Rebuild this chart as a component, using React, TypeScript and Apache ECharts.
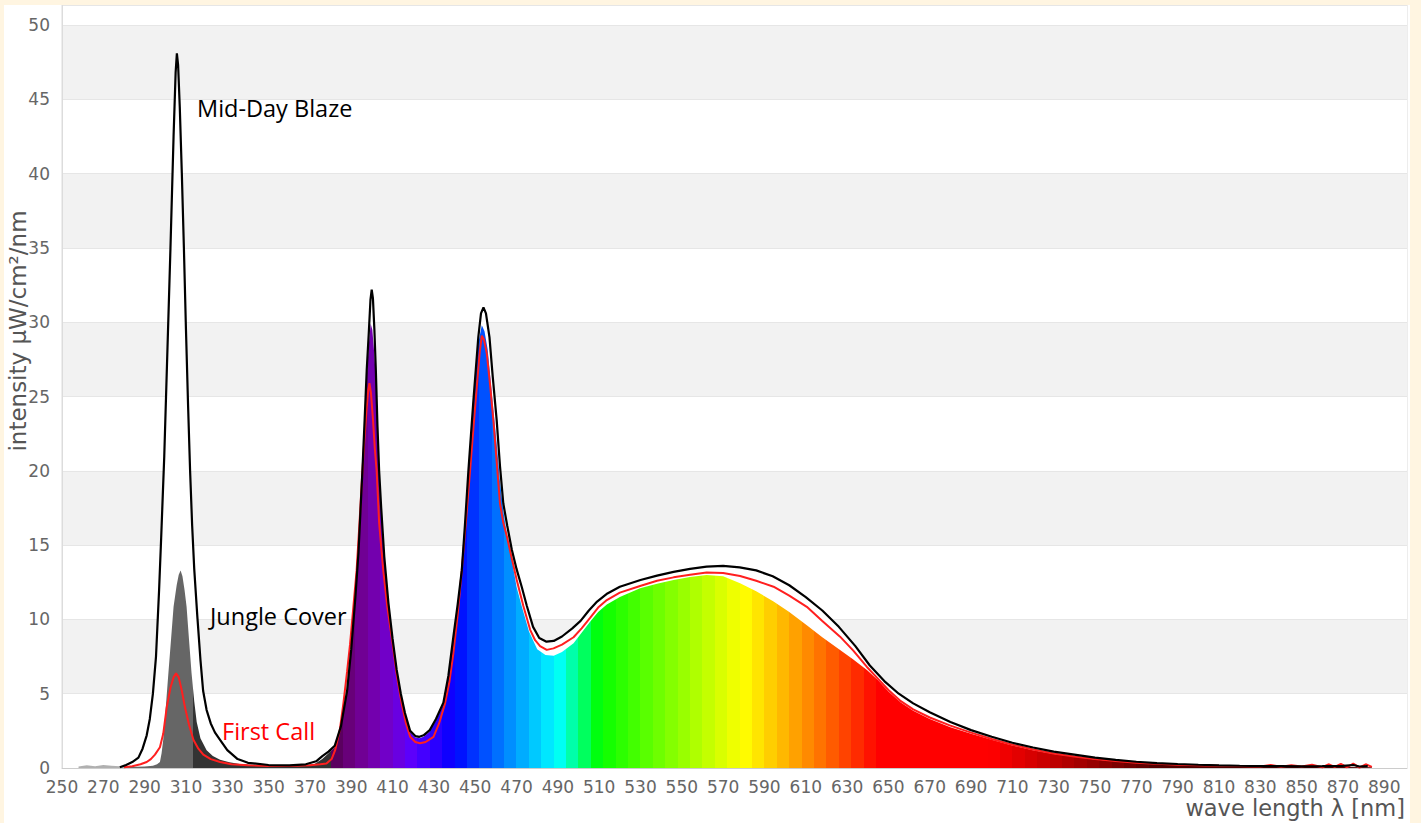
import React, { useEffect, useRef } from 'react';
import * as echarts from 'echarts';

// Mid-Day Blaze (black outline)
const blazeNm = [278, 281, 284, 287, 289, 291, 292.5, 294, 295.5, 297, 298, 299.5, 301, 302.5, 304, 305, 305.6, 306.2, 307, 308, 309, 310, 311, 312, 313, 314, 315.5, 317, 318.3, 320, 322, 324, 326.5, 330, 335, 340, 350, 360, 368, 373, 376, 379, 382, 385, 388, 390, 392, 393.5, 395.4, 396.5, 397.5, 398.5, 399.3, 399.9, 400.5, 401.2, 401.9, 402.7, 403.5, 404.5, 406, 408, 410, 412, 414, 416, 418.5, 421, 423, 425, 428, 431, 434.6, 437, 439.4, 441.5, 443.5, 445, 446.7, 449, 451.5, 452.8, 454, 455.2, 456.9, 458.5, 460.4, 462, 463.6, 465.5, 467.7, 470, 472.5, 475, 478, 481, 484.5, 488, 492, 497, 501, 505, 509, 514, 520, 530, 538, 546, 554, 562, 570, 578, 586, 594, 602, 610, 618, 626, 634, 641, 648, 655, 662, 670, 680, 690, 700, 710, 720, 730, 740, 750, 760, 770, 780, 790, 800, 810, 820, 830, 840, 850, 860, 870, 875, 878, 882];
const blazeVal = [0.05, 0.2, 0.4, 0.7, 1.3, 2.2, 3.3, 5, 7.5, 12, 15.5, 21, 28, 35, 42.5, 46.8, 48.1, 47.3, 44.5, 40, 35, 29.5, 24.5, 20, 16.3, 13.4, 10.2, 7.3, 5.2, 3.9, 3.0, 2.4, 1.9, 1.2, 0.6, 0.35, 0.2, 0.18, 0.25, 0.45, 0.8, 1.1, 1.5, 2.8, 5.2, 8, 11.5, 14.5, 20, 23.5, 26.8, 29.3, 31.5, 32.2, 31.6, 29.5, 26.8, 23, 20, 17.5, 14.2, 11.1, 8.7, 6.6, 5, 3.7, 2.5, 2.15, 2.1, 2.2, 2.55, 3.3, 4.4, 6.2, 8.8, 11, 13.3, 16.3, 20, 24.5, 29, 30.6, 31, 30.6, 29, 26.3, 23.4, 20.3, 17.8, 16.3, 14.7, 13.4, 12.2, 10.9, 9.5, 8.75, 8.5, 8.55, 8.85, 9.4, 9.9, 10.6, 11.2, 11.75, 12.2, 12.65, 12.95, 13.2, 13.4, 13.55, 13.6, 13.5, 13.3, 12.9, 12.3, 11.5, 10.6, 9.5, 8.2, 6.9, 5.85, 5.0, 4.35, 3.75, 3.1, 2.55, 2.1, 1.7, 1.38, 1.1, 0.9, 0.7, 0.55, 0.42, 0.33, 0.27, 0.22, 0.18, 0.15, 0.13, 0.12, 0.11, 0.12, 0.14, 0.2, 0.1, 0.12];

// Jungle Cover (spectrum-coloured fill)
const jungleNm = [258, 262, 266, 270, 274, 278, 282, 286, 290, 294, 296, 297.4, 298.2, 299, 300.3, 301.5, 302.8, 304, 305.5, 306.5, 307.4, 308.3, 309.3, 310.3, 311.5, 312.7, 314, 315.2, 317, 320, 323, 326.5, 331, 336, 345, 355, 365, 372, 376, 379, 382, 385, 388, 390, 392, 393.5, 395.4, 396.5, 397.5, 398.5, 399.4, 400.2, 401.2, 401.9, 402.7, 403.5, 404.5, 406, 408, 410, 412, 414, 416, 418.5, 421, 423, 425, 428, 431, 434.6, 437, 439.4, 441.5, 443.5, 445, 446.7, 449, 451.5, 453.2, 454.5, 456, 457.5, 459, 460.4, 462, 463.6, 465.5, 468, 470, 472.5, 476, 480, 484, 488, 492, 497.6, 501.5, 505.6, 509.5, 513.7, 520, 529.8, 538, 546, 554, 562, 570, 578.2, 586, 594.4, 602, 610.5, 618, 626.6, 633, 639.6, 645, 650, 656, 662, 670, 680, 690, 700, 710, 720, 730, 740, 750, 760, 770, 780, 790, 800, 810, 830, 850, 870, 884];
const jungleVal = [0.1, 0.18, 0.12, 0.2, 0.15, 0.12, 0.08, 0.08, 0.1, 0.15, 0.25, 0.4, 1.0, 1.9, 4.2, 6.4, 8.7, 10.85, 12.3, 13.0, 13.3, 12.9, 12.0, 10.85, 8.6, 6.4, 4.5, 3.1, 2.0, 1.2, 0.8, 0.55, 0.38, 0.27, 0.18, 0.15, 0.15, 0.25, 0.6, 1.0, 1.4, 2.7, 5.1, 7.9, 11.4, 14.4, 19.9, 23.3, 26.3, 28.5, 29.9, 29.5, 27.8, 26.3, 22.8, 19.8, 17.3, 14, 11, 8.6, 6.5, 4.9, 3.6, 2.4, 2.05, 2.0, 2.1, 2.45, 3.2, 4.3, 6.1, 8.7, 10.9, 13.2, 16.2, 19.9, 24.4, 28.6, 29.8, 29.4, 28.2, 26, 23.8, 21.8, 19.3, 17.3, 15.6, 13.8, 12.2, 10.9, 9.2, 8.0, 7.6, 7.55, 7.8, 8.4, 9.1, 9.85, 10.5, 11.0, 11.5, 12.1, 12.4, 12.65, 12.85, 12.99, 12.9, 12.43, 11.9, 11.2, 10.5, 9.6, 8.8, 7.94, 7.3, 6.6, 5.9, 5.15, 4.4, 3.85, 3.3, 2.75, 2.3, 1.9, 1.52, 1.2, 0.95, 0.76, 0.58, 0.45, 0.35, 0.27, 0.2, 0.16, 0.12, 0.09, 0.07, 0.06, 0.05];

// First Call (red outline)
const firstNm = [280, 284, 288, 291, 293, 295, 297.4, 299, 300.7, 302.5, 304, 305.2, 306.5, 308, 309.5, 311.5, 313.6, 316, 318.4, 322, 326.5, 332, 340, 350, 360, 370, 375, 378, 380.5, 382.2, 384.5, 386.2, 388, 389.4, 391, 392.6, 394, 395, 396.3, 397.5, 398.3, 398.8, 399.5, 400.5, 401.4, 402.3, 403.5, 405.5, 407.5, 409.6, 412, 414.4, 416.5, 418.5, 421, 423.3, 426, 429.8, 432.5, 435.4, 437.5, 439.4, 441.5, 443.5, 445.5, 447.5, 449.2, 450.8, 452.2, 453.2, 454.3, 455.6, 457.2, 458.8, 460.4, 462, 463.6, 465.3, 467.7, 470.1, 473.3, 476.6, 479, 481.4, 484.6, 487.9, 492, 497.6, 501.5, 505.6, 509.5, 513.7, 520, 529.8, 538, 546, 554, 562, 570, 578.2, 586, 594.4, 602, 610.5, 618, 626.6, 633, 639.6, 645, 650, 656, 662, 670, 680, 690, 700, 710, 720, 730, 740, 750, 760, 770, 780, 790, 800, 810, 820, 830, 835, 840, 845, 850, 855, 860, 863, 866, 869, 872, 875, 878, 881, 884];
const firstVal = [0.05, 0.12, 0.25, 0.4, 0.6, 0.9, 1.4, 2.3, 4.1, 5.4, 6.1, 6.37, 6.1, 5.2, 4.1, 2.9, 1.9, 1.3, 0.9, 0.6, 0.4, 0.25, 0.18, 0.14, 0.13, 0.18, 0.25, 0.3, 0.6, 1.2, 2.6, 4.35, 6.5, 8.3, 10.8, 13.3, 16.5, 19, 22, 24.3, 25.5, 25.9, 25.3, 23.5, 21.5, 20, 16.5, 13.3, 10.8, 8.8, 6.3, 4.35, 3, 2.1, 1.75, 1.66, 1.75, 2.1, 3, 4.35, 5.8, 7.7, 10.3, 13.3, 16.6, 20, 23, 25.7, 28, 29.1, 28.8, 27.9, 25.8, 23.4, 20.6, 17.8, 16.5, 15.6, 14.1, 12.65, 10.9, 9.3, 8.6, 8.2, 7.95, 8.05, 8.3, 8.8, 9.4, 10.1, 10.8, 11.3, 11.8, 12.25, 12.6, 12.83, 13.0, 13.15, 13.13, 12.92, 12.6, 12.2, 11.6, 10.85, 9.9, 8.84, 7.9, 6.8, 6.0, 5.25, 4.5, 3.95, 3.4, 2.85, 2.38, 1.95, 1.57, 1.24, 0.98, 0.78, 0.6, 0.47, 0.36, 0.28, 0.22, 0.18, 0.15, 0.13, 0.1, 0.2, 0.08, 0.18, 0.1, 0.22, 0.05, 0.25, 0.08, 0.28, 0.05, 0.3, 0.02, 0.25, 0.08];

const yTicks = [0, 5, 10, 15, 20, 25, 30, 35, 40, 45, 50];

const seriesLabels = [
  { text: 'Mid-Day Blaze', color: '#000000', x: 197, y: 108 },
  { text: 'Jungle Cover', color: '#000000', x: 210, y: 616 },
  { text: 'First Call', color: '#ff0000', x: 222, y: 731 },
];

const zip = (xs: number[], ys: number[]) => xs.map((x, i) => [x, ys[i]]);

function spectrumColor(w: number): string {
  let r = 0, g = 0, b = 0;
  if (w < 440) { r = -(w - 440) / 60; b = 1; }
  else if (w < 490) { g = (w - 440) / 50; b = 1; }
  else if (w < 510) { g = 1; b = -(w - 510) / 20; }
  else if (w < 580) { r = (w - 510) / 70; g = 1; }
  else if (w < 645) { r = 1; g = -(w - 645) / 65; }
  else { r = 1; }
  let f = 1;
  if (w < 420) f = 0.3 + 0.7 * (w - 380) / 40;
  else if (w > 700) f = 0.3 + 0.7 * (780 - w) / 80;
  const c = (v: number) => Math.round(255 * Math.pow(Math.max(0, v * f), 0.95));
  return `rgb(${c(r)},${c(g)},${c(b)})`;
}

function buildPieces() {
  const pieces: any[] = [
    { gte: 240, lt: 281, color: '#b0b0b0' },
    { gte: 281, lt: 313.4, color: '#666666' },
    { gte: 313.4, lt: 380, color: '#333333' },
  ];
  for (let w = 380; w < 782; w += 6) {
    pieces.push({ gte: w, lt: w + 6, color: spectrumColor(Math.min(w + 3, 780)) });
  }
  pieces.push({ gte: 782, lt: 920, color: spectrumColor(780) });
  return pieces;
}

export default function App() {
  const ref = useRef<HTMLDivElement>(null);
  useEffect(() => {
    const chart = echarts.init(ref.current!, null, { renderer: 'svg' });
    const font = 'DejaVu Sans';
    chart.setOption({
      animation: false,
      backgroundColor: '#ffffff',
      grid: { left: 62, right: 14, top: 5, bottom: 55, show: true, borderColor: '#dcdcdc', borderWidth: 1, backgroundColor: 'transparent' },
      xAxis: {
        type: 'value', min: 250, max: 901, interval: 20,
        axisLine: { show: true, lineStyle: { color: '#cccccc' } },
        axisTick: { show: false },
        splitLine: { show: false },
        axisLabel: { color: '#666666', fontSize: 17, fontFamily: font, margin: 10, showMaxLabel: false },
      },
      yAxis: {
        type: 'value', min: 0, max: 51.35, interval: 5,
        axisLine: { show: true, lineStyle: { color: '#dcdcdc' } },
        axisTick: { show: false },
        splitLine: { show: true, lineStyle: { color: '#e6e6e6' } },
        splitArea: { show: true, areaStyle: { color: ['#ffffff', '#f2f2f2'] } },
        axisLabel: {
          color: '#666666', fontSize: 17, fontFamily: font, margin: 12, showMaxLabel: false,
          formatter: (v: number) => (yTicks.includes(v) ? String(v) : ''),
        },
      },
      visualMap: {
        type: 'piecewise', show: false, dimension: 0, seriesIndex: 1,
        pieces: buildPieces(), outOfRange: { color: '#333333' },
      },
      series: [
        {
          name: 'Mid-Day Blaze area', type: 'line', data: zip(blazeNm, blazeVal), symbol: 'none', silent: true,
          lineStyle: { width: 0, opacity: 0 }, areaStyle: { color: '#ffffff', opacity: 1 },
        },
        {
          name: 'Jungle Cover', type: 'line', data: zip(jungleNm, jungleVal), symbol: 'none', silent: true,
          lineStyle: { width: 0, opacity: 0 }, areaStyle: { opacity: 1 },
        },
        {
          name: 'First Call', type: 'line', data: zip(firstNm, firstVal), symbol: 'none', silent: true,
          lineStyle: { width: 2, color: '#ff1f1f' }, itemStyle: { color: '#ff1f1f' },
        },
        {
          name: 'Mid-Day Blaze', type: 'line', data: zip(blazeNm, blazeVal), symbol: 'none', silent: true,
          lineStyle: { width: 2.2, color: '#000000' }, itemStyle: { color: '#000000' },
        },
      ],
      graphic: [
        { type: 'rect', shape: { x: 0, y: 0, width: 1421, height: 5 }, style: { fill: '#fff5e1' }, silent: true, z: 100 },
        { type: 'rect', shape: { x: 0, y: 0, width: 4, height: 823 }, style: { fill: '#fff5e1' }, silent: true, z: 100 },
        { type: 'rect', shape: { x: 1410, y: 0, width: 11, height: 823 }, style: { fill: '#fff5e1' }, silent: true, z: 100 },
        {
          type: 'text', x: 18, y: 331, rotation: Math.PI / 2, z: 100,
          style: { text: 'intensity µW/cm²/nm', fill: '#555555', font: `23px "${font}"`, textAlign: 'center', textVerticalAlign: 'middle' },
        },
        {
          type: 'text', x: 1405, y: 808, z: 100,
          style: { text: 'wave length λ [nm]', fill: '#555555', font: `22.5px "${font}"`, textAlign: 'right', textVerticalAlign: 'middle' },
        },
        ...seriesLabels.map((l) => ({
          type: 'text', x: l.x, y: l.y, z: 100,
          style: { text: l.text, fill: l.color, font: '23.5px "Open Sans"', textAlign: 'left', textVerticalAlign: 'middle' },
        })),
      ],
    });
    return () => chart.dispose();
  }, []);
  return <div ref={ref} style={{ position: 'fixed', left: 0, top: 0, width: 1421, height: 823 }} />;
}
